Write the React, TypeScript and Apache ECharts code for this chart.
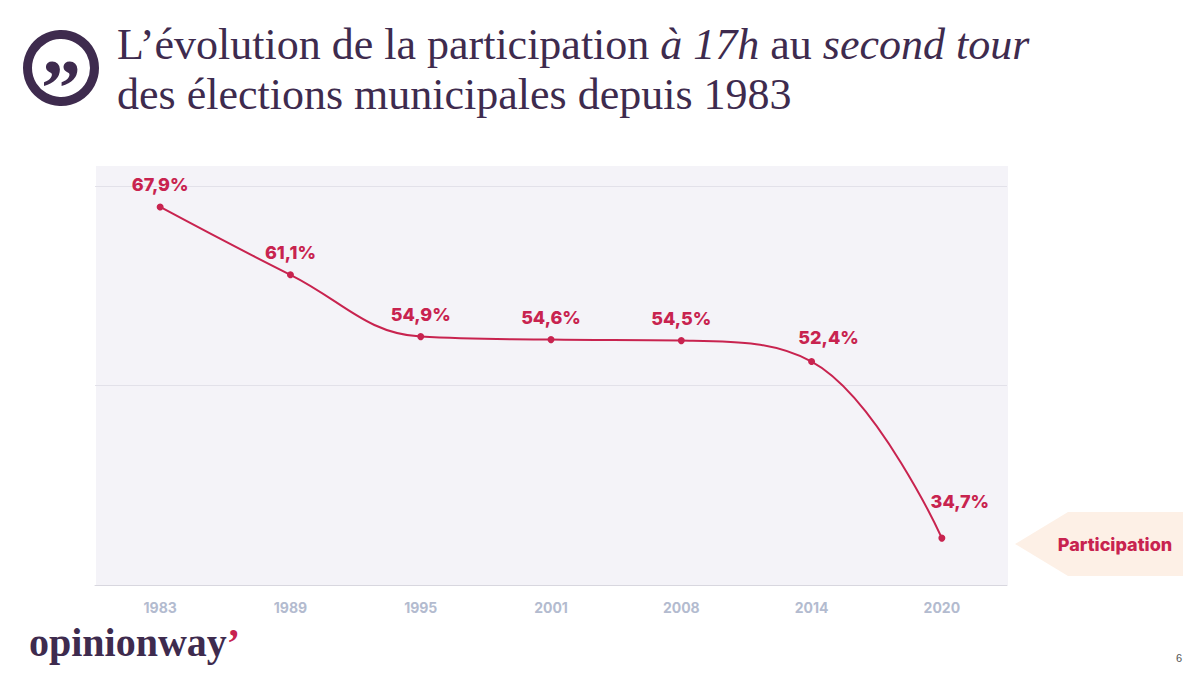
import React, { useEffect, useRef } from "react";
import * as echarts from "echarts";

const years = ["1983", "1989", "1995", "2001", "2008", "2014", "2020"];
const participation = [67.9, 61.1, 54.9, 54.6, 54.5, 52.4, 34.7];
const yTicks = { min: 30, max: 70, interval: 20 };

const titleLine1 = [
  { t: "L’évolution de la participation ", s: "n" },
  { t: "à 17h", s: "i" },
  { t: " au ", s: "n" },
  { t: "second tour", s: "i" },
];
const titleLine2 = "des élections municipales depuis 1983";
const legendLabel = "Participation";
const brand = "opinionway";
const pageNumber = "6";

const PURPLE = "#3e2b4e";
const RED = "#c8234f";
const labelShift = [
  [0, 0],
  [0, 0],
  [0, 0],
  [0, 0],
  [0, 0],
  [17, -2],
  [18, -14],
];

export default function App() {
  const ref = useRef<HTMLDivElement>(null);
  useEffect(() => {
    if (!ref.current) return;
    const chart = echarts.init(ref.current, undefined, { renderer: "svg" });
    const titleText =
      titleLine1.map((p) => `{${p.s}|${p.t}}`).join("") + `\n{n|${titleLine2}}`;
    const serif = "'Liberation Serif', 'DejaVu Serif', serif";
    const sans = "Inter, 'Noto Sans', sans-serif";
    chart.setOption({
      animation: false,
      backgroundColor: "#ffffff",
      grid: { left: 95, right: 193, top: 186, bottom: 90 },
      xAxis: {
        type: "category",
        data: years,
        boundaryGap: true,
        axisTick: { show: false },
        axisLine: { lineStyle: { color: "#d8d7df", width: 1 } },
        axisLabel: {
          color: "#b3bbcf",
          fontFamily: sans,
          fontWeight: 700,
          fontSize: 14,
          margin: 15,
        },
      },
      yAxis: {
        type: "value",
        min: yTicks.min,
        max: yTicks.max,
        interval: yTicks.interval,
        axisLabel: { show: false },
        axisLine: { show: false },
        axisTick: { show: false },
        splitLine: { lineStyle: { color: "#e2e1e9", width: 1 } },
      },
      series: [
        {
          type: "line",
          data: participation.map((v, i) => ({
            value: v,
            label: { offset: labelShift[i] },
          })),
          smooth: 0.4,
          symbol: "circle",
          symbolSize: 7,
          lineStyle: { color: RED, width: 2 },
          itemStyle: { color: RED },
          label: {
            show: true,
            position: "top",
            distance: 10,
            color: RED,
            fontFamily: sans,
            fontWeight: 800,
            fontSize: 18,
            formatter: (p: any) => String(p.value).replace(".", ",") + "%",
          },
          z: 5,
        },
      ],
      graphic: [
        {
          type: "rect",
          z: -10,
          shape: { x: 96, y: 166, width: 912, height: 419 },
          style: { fill: "#f4f3f8" },
          silent: true,
        },
        {
          type: "circle",
          shape: { cx: 61, cy: 68, r: 33.5 },
          style: { fill: "none", stroke: PURPLE, lineWidth: 9 },
        },
        {
          type: "text",
          x: 61,
          y: 88,
          style: {
            text: "”",
            fill: PURPLE,
            font: `bold 80px ${serif}`,
            align: "center",
            verticalAlign: "middle",
          },
        },
        {
          type: "text",
          x: 117,
          y: 19,
          style: {
            text: titleText,
            fill: PURPLE,
            verticalAlign: "top",
            rich: {
              n: { fontFamily: serif, fontSize: 44, lineHeight: 50, fill: PURPLE, color: PURPLE },
              i: {
                fontFamily: serif,
                fontStyle: "italic",
                fontSize: 44,
                lineHeight: 50,
                fill: PURPLE,
                color: PURPLE,
              },
            },
          },
        },
        {
          type: "polygon",
          shape: {
            points: [
              [1015, 544],
              [1068, 512],
              [1183, 512],
              [1183, 576],
              [1068, 576],
            ],
          },
          style: { fill: "#fdf0e6" },
        },
        {
          type: "text",
          x: 1115,
          y: 544,
          style: {
            text: legendLabel,
            fill: RED,
            font: `800 18px ${sans}`,
            align: "center",
            verticalAlign: "middle",
          },
        },
        {
          type: "text",
          x: 29,
          y: 662,
          style: {
            text: `{a|${brand}}{b|’}`,
            verticalAlign: "bottom",
            rich: {
              a: { fontFamily: serif, fontWeight: 700, fontSize: 40, fill: PURPLE, color: PURPLE },
              b: { fontFamily: serif, fontWeight: 700, fontSize: 40, fill: RED, color: RED },
            },
          },
        },
        {
          type: "text",
          x: 1182,
          y: 658,
          style: {
            text: pageNumber,
            fill: "#555555",
            font: `11px 'Liberation Sans', sans-serif`,
            align: "right",
            verticalAlign: "middle",
          },
        },
      ],
    });
    return () => chart.dispose();
  }, []);
  return (
    <div
      ref={ref}
      style={{ position: "fixed", left: 0, top: 0, width: 1200, height: 675 }}
    />
  );
}
